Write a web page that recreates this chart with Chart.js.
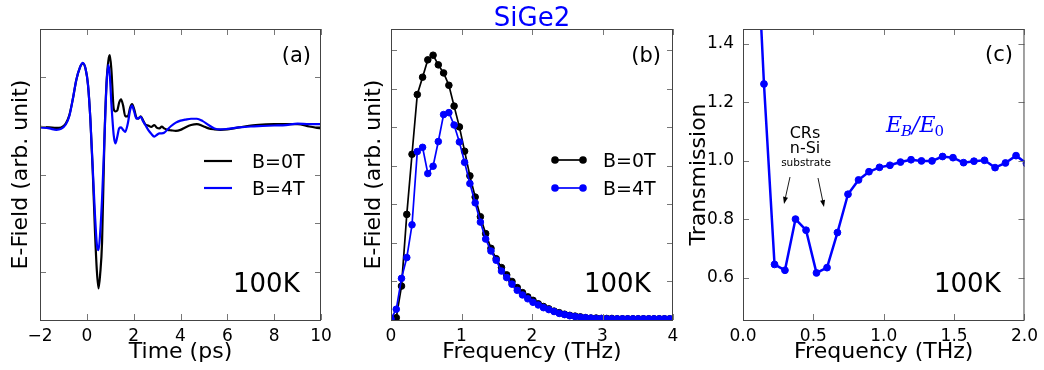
<!DOCTYPE html>
<html>
<head>
<meta charset="utf-8">
<script src="https://cdn.jsdelivr.net/npm/chart.js@4.4.1/dist/chart.umd.min.js"></script>
<style>
  body { margin: 0; background: #fff; width: 1044px; height: 370px; overflow: hidden; position: relative; }
  canvas { position: absolute; top: 0; }
</style>
</head>
<body>
<canvas id="ca" width="345" height="370" style="left:0px"></canvas>
<canvas id="cb" width="340" height="370" style="left:345px"></canvas>
<canvas id="cc" width="359" height="370" style="left:685px"></canvas>
<script>
// ---- panel (a): time traces ----
const timePs = [-2.0, -1.6, -1.3, -1.1, -0.9, -0.75, -0.6, -0.45, -0.3, -0.17, -0.05, 0.05, 0.15, 0.25, 0.35, 0.43, 0.5, 0.57, 0.65, 0.75,
  0.84, 0.92, 0.98, 1.05, 1.15, 1.22, 1.3, 1.38, 1.46, 1.55, 1.64, 1.75, 1.85, 1.93, 2.02, 2.12, 2.2, 2.3, 2.4, 2.5,
  2.62, 2.75, 2.88, 3.0, 3.1, 3.2, 3.3, 3.45, 3.6, 3.8, 4.0, 4.2, 4.45, 4.7, 4.95, 5.2, 5.45, 5.7, 6.0, 6.5,
  7.0, 7.5, 8.0, 8.5, 9.0, 9.5, 10.0];
const fieldB0 = [-0.02, -0.03, -0.04, -0.03, 0.05, 0.22, 0.55, 0.95, 1.2, 1.29, 1.17, 0.85, 0.15, -0.9, -2.2, -3.0, -3.35, -3.05, -2.4, -0.3,
  0.88, 1.35, 1.46, 1.15, 0.35, 0.3, 0.32, 0.48, 0.55, 0.42, 0.2, 0.2, 0.38, 0.45, 0.35, 0.17, 0.15, 0.2, 0.12, 0.03,
  0.01, -0.02, 0.02, -0.04, -0.05, -0.01, -0.05, -0.08, -0.09, -0.1, -0.08, -0.03, 0.02, 0.04, 0.0, -0.05, -0.07, -0.08, -0.07, -0.03,
  0.01, 0.03, 0.04, 0.04, 0.04, -0.01, -0.05];
const fieldB4 = [-0.03, -0.05, -0.08, -0.06, 0.03, 0.2, 0.55, 0.95, 1.2, 1.3, 1.17, 0.85, 0.15, -0.85, -1.85, -2.45, -2.56, -2.2, -1.5, -0.3,
  0.85, 1.26, 1.05, 0.45, -0.2, -0.36, -0.22, -0.05, -0.03, -0.08, -0.12, 0.05, 0.33, 0.42, 0.3, 0.15, 0.16, 0.19, 0.1, 0.02,
  -0.08, -0.16, -0.22, -0.18, -0.15, -0.15, -0.14, -0.07, 0.0, 0.07, 0.11, 0.13, 0.15, 0.15, 0.1, 0.02, -0.05, -0.07, -0.06, -0.03,
  -0.01, 0.0, 0.01, 0.02, 0.05, 0.04, 0.04];
const ticksTimeX = [-2, 0, 2, 4, 6, 8, 10];
const ticksFieldY = [-4, -3, -2, -1, 0, 1, 2];

// ---- panel (b): spectra ----
const freqTHz = [0, 0.075, 0.149, 0.224, 0.298, 0.373, 0.448, 0.522, 0.597, 0.671, 0.746, 0.821, 0.895, 0.970, 1.044, 1.119, 1.194, 1.268,
  1.343, 1.418, 1.492, 1.567, 1.641, 1.716, 1.791, 1.865, 1.940, 2.014, 2.089, 2.163, 2.238, 2.313, 2.387, 2.462, 2.536, 2.611,
  2.686, 2.760, 2.835, 2.910, 2.984, 3.059, 3.133, 3.208, 3.283, 3.357, 3.432, 3.506, 3.581, 3.656, 3.730, 3.805, 3.879, 3.954];
const specB0 = [0, 0.06, 0.88, 2.74, 4.3, 5.85, 6.3, 6.75, 6.87, 6.62, 6.41, 6.09, 5.55, 5.01, 4.38, 3.74, 3.19, 2.68,
  2.24, 1.86, 1.59, 1.36, 1.17, 1.0, 0.84, 0.71, 0.6, 0.51, 0.42, 0.35, 0.29, 0.23, 0.19, 0.15, 0.12, 0.1,
  0.08, 0.06, 0.05, 0.05, 0.04, 0.04, 0.04, 0.03, 0.03, 0.03, 0.03, 0.03, 0.03, 0.03, 0.03, 0.03, 0.03, 0.03];
const specB4 = [0.03, 0.28, 1.08, 1.62, 2.47, 4.37, 4.48, 3.8, 3.99, 4.63, 5.33, 5.38, 5.06, 4.62, 4.09, 3.54, 3.04, 2.54,
  2.1, 1.79, 1.55, 1.27, 1.1, 0.93, 0.77, 0.65, 0.55, 0.46, 0.39, 0.32, 0.27, 0.22, 0.17, 0.14, 0.11, 0.09,
  0.07, 0.06, 0.05, 0.04, 0.04, 0.03, 0.03, 0.03, 0.03, 0.03, 0.03, 0.03, 0.03, 0.03, 0.03, 0.03, 0.03, 0.03];
const ticksFreqX = [0, 1, 2, 3, 4];
const ticksSpecY = [0, 1, 2, 3, 4, 5, 6, 7];

// ---- panel (c): transmission ----
const freqTrans = [0.075, 0.149, 0.224, 0.298, 0.373, 0.448, 0.522, 0.597, 0.671, 0.746, 0.821, 0.895, 0.970, 1.044,
  1.119, 1.194, 1.268, 1.343, 1.418, 1.492, 1.567, 1.641, 1.716, 1.791, 1.865, 1.940, 2.014, 2.089];
const transmission = [2.0, 1.262, 0.645, 0.625, 0.80, 0.762, 0.616, 0.634, 0.754, 0.885, 0.934, 0.962, 0.977, 0.984,
  0.995, 1.003, 0.999, 0.999, 1.014, 1.01, 0.993, 0.998, 1.001, 0.976, 0.992, 1.017, 0.99, 0.97];
const ticksTransX = [0, 0.5, 1.0, 1.5, 2.0];
const ticksTransY = [0.6, 0.8, 1.0, 1.2, 1.4];

Chart.defaults.font.family = '"DejaVu Sans", sans-serif';
Chart.defaults.color = '#000';

const BLUE = '#0000ff';
const BLACK = '#000000';

function pts(xs, ys) { return xs.map((x, i) => ({ x: x, y: ys[i] })); }

// frame + inward ticks on all four sides
const frame = {
  id: 'frame',
  afterDraw(chart) {
    const { ctx, chartArea: a, scales } = chart;
    const L = 6;
    ctx.save();
    ctx.strokeStyle = '#777';
    ctx.lineWidth = 1;
    ctx.beginPath();
    scales.x.ticks.forEach(t => {
      const px = Math.round(scales.x.getPixelForValue(t.value)) + 0.5;
      ctx.moveTo(px, a.bottom); ctx.lineTo(px, a.bottom - L);
      ctx.moveTo(px, a.top); ctx.lineTo(px, a.top + L);
    });
    scales.y.ticks.forEach(t => {
      const py = Math.round(scales.y.getPixelForValue(t.value)) + 0.5;
      ctx.moveTo(a.left, py); ctx.lineTo(a.left + L, py);
      ctx.moveTo(a.right, py); ctx.lineTo(a.right - L, py);
    });
    ctx.stroke();
    ctx.strokeStyle = '#444';
    ctx.strokeRect(a.left + 0.5, a.top + 0.5, a.right - a.left - 1, a.bottom - a.top);
    ctx.restore();
  }
};

// texts drawn at fixed spots on the canvas
function notes(items) {
  return {
    id: 'notes',
    afterDraw(chart) {
      const ctx = chart.ctx;
      ctx.save();
      items.forEach(it => {
        ctx.font = it.font;
        ctx.fillStyle = it.color || '#000';
        ctx.textAlign = it.align || 'left';
        ctx.textBaseline = 'alphabetic';
        ctx.fillText(it.text, it.x, it.y);
      });
      ctx.restore();
    }
  };
}

// matplotlib-like legend inside the plot
function legend(x0, x1, tx, rows, markers) {
  return {
    id: 'mplLegend',
    afterDraw(chart) {
      const ctx = chart.ctx;
      ctx.save();
      chart.data.datasets.forEach((ds, i) => {
        const y = rows[ds.legendRow];
        ctx.strokeStyle = ds.borderColor;
        ctx.lineWidth = ds.borderWidth;
        ctx.beginPath(); ctx.moveTo(x0, y); ctx.lineTo(x1, y); ctx.stroke();
        if (markers) {
          ctx.fillStyle = ds.borderColor;
          [x0, x1].forEach(x => { ctx.beginPath(); ctx.arc(x, y, 3.8, 0, Math.PI * 2); ctx.fill(); });
        }
        ctx.fillStyle = '#000';
        ctx.font = '19px "DejaVu Sans"';
        ctx.textBaseline = 'alphabetic';
        ctx.textAlign = 'left';
        ctx.fillText(ds.label, tx, y + 7);
      });
      ctx.restore();
    }
  };
}

function axes(o) {
  return {
    x: {
      type: 'linear', min: o.xmin, max: o.xmax,
      afterBuildTicks: s => { s.ticks = o.xt.map(v => ({ value: v })); },
      afterFit: s => { s.height = 50; },
      grid: { display: false, drawTicks: false }, border: { display: false },
      ticks: { font: { size: 17 }, padding: 6, maxRotation: 0, autoSkip: false, color: '#000', callback: o.xfmt },
      title: { display: true, text: o.xtitle, font: { size: 22 }, color: '#000', padding: { top: 0, bottom: 5 } }
    },
    y: {
      type: 'linear', min: o.ymin, max: o.ymax,
      afterBuildTicks: s => { s.ticks = o.yt.map(v => ({ value: v })); },
      afterFit: s => { s.width = o.yw; },
      grid: { display: false, drawTicks: false }, border: { display: false },
      ticks: { display: o.ylabels, font: { size: 17 }, padding: 9, autoSkip: false, color: '#000', callback: o.yfmt },
      title: { display: true, text: o.ytitle, font: { size: 22 }, color: '#000', padding: { top: o.ytpad, bottom: 0 } }
    }
  };
}

const minusFmt = v => (v < 0 ? '\u2212' + Math.abs(v) : String(v));

// (a)
new Chart(document.getElementById('ca'), {
  type: 'scatter',
  data: {
    datasets: [
      { label: 'B=4T', legendRow: 1, data: pts(timePs, fieldB4), showLine: true, borderColor: BLUE, borderWidth: 2.2,
        pointRadius: 0, cubicInterpolationMode: 'monotone', order: 0 },
      { label: 'B=0T', legendRow: 0, data: pts(timePs, fieldB0), showLine: true, borderColor: BLACK, borderWidth: 2.2,
        pointRadius: 0, cubicInterpolationMode: 'monotone', order: 1 }
    ]
  },
  options: {
    responsive: false, animation: false, devicePixelRatio: 1,
    layout: { padding: { left: 0, right: 24, top: 29, bottom: 0 } },
    plugins: { legend: { display: false }, tooltip: { enabled: false } },
    scales: axes({ xmin: -2, xmax: 10, xt: ticksTimeX, xfmt: minusFmt, xtitle: 'Time (ps)',
      ymin: -4, ymax: 2, yt: ticksFieldY, ylabels: false, yw: 40, ytitle: 'E-Field (arb. unit)', ytpad: 8 })
  },
  plugins: [frame, legend(204, 232, 252, [161, 188], false), notes([
    { text: '(a)', x: 311, y: 62, font: '21px "DejaVu Sans"', align: 'right' },
    { text: '100K', x: 233, y: 292, font: '26px "DejaVu Sans"' }
  ])]
});

// (b)
new Chart(document.getElementById('cb'), {
  type: 'scatter',
  data: {
    datasets: [
      { label: 'B=4T', legendRow: 1, data: pts(freqTHz, specB4), showLine: true, borderColor: BLUE, backgroundColor: BLUE,
        borderWidth: 1.7, pointRadius: 3.3, pointBorderWidth: 1, pointBorderColor: BLUE, pointBackgroundColor: BLUE, tension: 0, order: 0 },
      { label: 'B=0T', legendRow: 0, data: pts(freqTHz, specB0), showLine: true, borderColor: BLACK, backgroundColor: BLACK,
        borderWidth: 1.7, pointRadius: 3.3, pointBorderWidth: 1, pointBorderColor: BLACK, pointBackgroundColor: BLACK, tension: 0, order: 1 }
    ]
  },
  options: {
    responsive: false, animation: false, devicePixelRatio: 1,
    layout: { padding: { left: 0, right: 12, top: 29, bottom: 0 } },
    plugins: { legend: { display: false }, tooltip: { enabled: false } },
    scales: axes({ xmin: 0, xmax: 4, xt: ticksFreqX, xfmt: v => String(v), xtitle: 'Frequency (THz)',
      ymin: 0, ymax: 7.55, yt: ticksSpecY, ylabels: false, yw: 46, ytitle: 'E-Field (arb. unit)', ytpad: 16 })
  },
  plugins: [frame, legend(210, 238, 258, [160, 188], true), notes([
    { text: 'SiGe2', x: 187, y: 26, font: '26px "DejaVu Sans"', align: 'center', color: BLUE },
    { text: '(b)', x: 316, y: 62, font: '21px "DejaVu Sans"', align: 'right' },
    { text: '100K', x: 239, y: 292, font: '26px "DejaVu Sans"' }
  ])]
});

// (c)
const arrowsC = {
  id: 'arrowsC',
  afterDraw(chart) {
    const ctx = chart.ctx;
    const arrows = [[105, 177, 99, 204], [133, 178, 139, 207]];
    ctx.save();
    ctx.strokeStyle = '#000'; ctx.fillStyle = '#000'; ctx.lineWidth = 0.9;
    arrows.forEach(([x0, y0, x1, y1]) => {
      const ang = Math.atan2(y1 - y0, x1 - x0);
      ctx.beginPath(); ctx.moveTo(x0, y0); ctx.lineTo(x1 - 5 * Math.cos(ang), y1 - 5 * Math.sin(ang)); ctx.stroke();
      ctx.beginPath();
      ctx.moveTo(x1, y1);
      ctx.lineTo(x1 - 7 * Math.cos(ang) + 2.5 * Math.sin(ang), y1 - 7 * Math.sin(ang) - 2.5 * Math.cos(ang));
      ctx.lineTo(x1 - 7 * Math.cos(ang) - 2.5 * Math.sin(ang), y1 - 7 * Math.sin(ang) + 2.5 * Math.cos(ang));
      ctx.closePath(); ctx.fill();
    });
    // E_B / E_0 label
    let x = 201;
    const base = 132;
    const parts = [['E', 'italic 22px "DejaVu Serif"', 0], ['B', 'italic 15px "DejaVu Serif"', 4],
      ['/', 'italic 22px "DejaVu Serif"', 0], ['E', 'italic 22px "DejaVu Serif"', 0], ['0', '15px "DejaVu Serif"', 4]];
    ctx.fillStyle = BLUE;
    ctx.textAlign = 'left';
    ctx.textBaseline = 'alphabetic';
    parts.forEach(([t, f, dy]) => {
      ctx.font = f;
      ctx.fillText(t, x, base + dy);
      x += ctx.measureText(t).width + (t === 'E' ? -1 : 0);
    });
    ctx.restore();
  }
};

new Chart(document.getElementById('cc'), {
  type: 'scatter',
  data: {
    datasets: [
      { label: 'EB/E0', data: pts(freqTrans, transmission), showLine: true, borderColor: BLUE, backgroundColor: BLUE,
        borderWidth: 2.5, pointRadius: 3.4, pointBorderWidth: 1, pointBorderColor: BLUE, pointBackgroundColor: BLUE, tension: 0 }
    ]
  },
  options: {
    responsive: false, animation: false, devicePixelRatio: 1,
    layout: { padding: { left: 0, right: 19, top: 29, bottom: 0 } },
    plugins: { legend: { display: false }, tooltip: { enabled: false } },
    scales: axes({ xmin: 0, xmax: 2, xt: ticksTransX, xfmt: v => v.toFixed(1), xtitle: 'Frequency (THz)',
      ymin: 0.455, ymax: 1.45, yt: ticksTransY, ylabels: true, yfmt: v => v.toFixed(1), yw: 58, ytitle: 'Transmission', ytpad: 1 })
  },
  plugins: [frame, arrowsC, notes([
    { text: '(c)', x: 328, y: 61, font: '21px "DejaVu Sans"', align: 'right' },
    { text: 'CRs', x: 120, y: 138, font: '16px "DejaVu Sans"', align: 'center' },
    { text: 'n-Si', x: 120, y: 153, font: '16px "DejaVu Sans"', align: 'center' },
    { text: 'substrate', x: 121, y: 166, font: '10.5px "DejaVu Sans"', align: 'center' },
    { text: '100K', x: 249, y: 292, font: '26px "DejaVu Sans"' }
  ])]
});
</script>
</body>
</html>
